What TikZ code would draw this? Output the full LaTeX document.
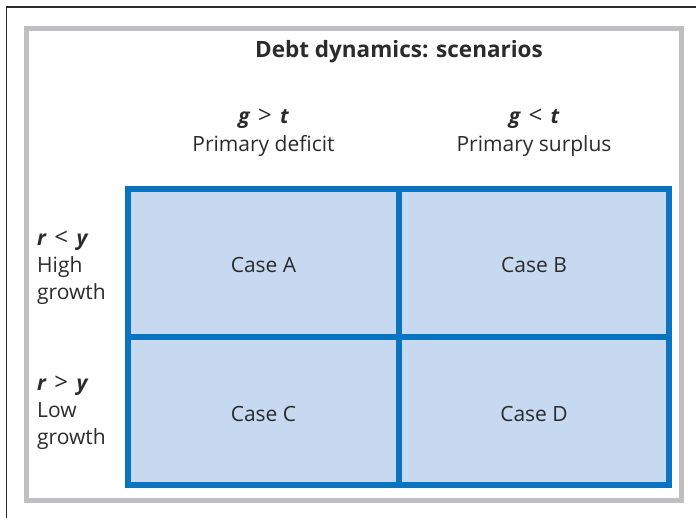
\documentclass[tikz,border=0pt]{standalone}
\usepackage{fontspec}
\setmainfont{Open Sans}
\definecolor{rahmengrau}{HTML}{BEBEC3}
\definecolor{zellblau}{HTML}{0A74C0}
\definecolor{zellfill}{HTML}{C6D9F0}
\definecolor{textgrau}{HTML}{2B2B2B}

\tikzset{
  zelle/.style={draw=zellblau, fill=zellfill, line width=6pt,
    minimum width=270.5pt, minimum height=148pt, inner sep=0pt,
    text height=20pt, text depth=0pt,
    font=\fontsize{21}{25}\selectfont, text=textgrau},
  kopf/.style={align=center, font=\fontsize{21}{28}\selectfont, text=textgrau},
  zeile/.style={anchor=west, align=left, inner sep=0pt, font=\fontsize{21}{27}\selectfont, text=textgrau}
}

\newcommand{\bi}[1]{{\bfseries\itshape #1}}
\newcommand{\rel}[1]{\hspace{0.4em}{\fontsize{24}{24}\selectfont #1}\hspace{0.4em}}

\begin{document}
\begin{tikzpicture}[x=1pt, y=-1pt]
        \useasboundingbox (0,0) rectangle (696,518);

        % Seitenrand oben und links
        \draw[line width=1.5pt, textgrau] (6.5,518) -- (6.5,7) -- (696,7);

        % grauer Rahmen
        \draw[line width=5pt, rahmengrau] (26.5,28.5) rectangle (681.5,500.5);

        % Titel
        \node[text=textgrau, font=\fontsize{22.5}{26}\selectfont\bfseries] (titel) at (399,52) {Debt dynamics: scenarios};

        % Spaltenkoepfe
        \node[kopf] (kopfA) at (263.5,133) {\bi{g}\rel{>}\bi{t}\\Primary deficit};
        \node[kopf] (kopfB) at (534,133) {\bi{g}\rel{<}\bi{t}\\Primary surplus};

        % Zeilenkoepfe
        \node[zeile] (zeileA) at (37,268) {\bi{r}\rel{<}\bi{y}\\High\\growth};
        \node[zeile] (zeileB) at (37,413) {\bi{r}\rel{>}\bi{y}\\Low\\growth};

        % die vier Faelle
        \node[zelle] (caseA) at (263.5,263) {Case A};
        \node[zelle] (caseB) at (534,263) {Case B};
        \node[zelle] (caseC) at (263.5,411) {Case C};
        \node[zelle] (caseD) at (534,411) {Case D};
    \end{tikzpicture}
\end{document}
